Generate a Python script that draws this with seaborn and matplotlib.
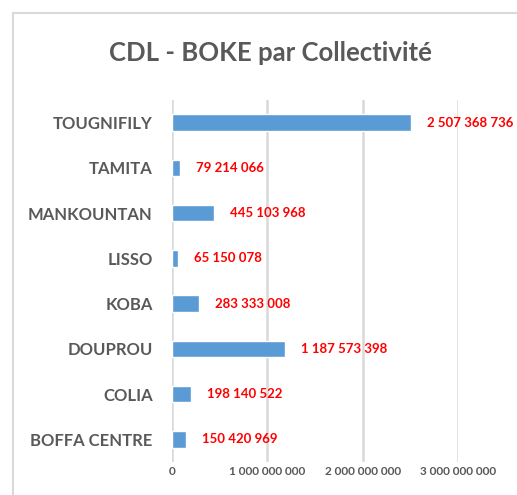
import numpy as np
import pandas as pd
import seaborn as sns
import matplotlib.pyplot as plt
from matplotlib.patches import Rectangle

collectivites = ["TOUGNIFILY", "TAMITA", "MANKOUNTAN", "LISSO", "KOBA",
                 "DOUPROU", "COLIA", "BOFFA CENTRE"]
montants = [2507368736, 79214066, 445103968, 65150078, 283333008,
            1187573398, 198140522, 150420969]
xticks = [0, 1000000000, 2000000000, 3000000000]

def fmt(v):
    return "{:,}".format(int(v)).replace(",", " ")

sns.set_style("white")
plt.rcParams['font.family'] = ['Lato', 'DejaVu Sans']

df = pd.DataFrame({"collectivite": collectivites, "montant": montants})

fig = plt.figure(figsize=(5.17, 4.95), dpi=100)
ax = fig.add_axes([172 / 517, 33 / 495, (458 - 172) / 517, 362 / 495])

sns.barplot(data=df, x="montant", y="collectivite", ax=ax, color="#5b9bd5",
            width=0.36, saturation=1, zorder=3)

ax.set_xlim(0, 3000000000)
ax.set_ylim(7.5, -0.5)
ax.set_xticks(xticks)
ax.set_xticklabels([fmt(t) for t in xticks], fontsize=8.5, fontweight="bold", color="#595959")
ax.tick_params(axis="y", labelsize=12, labelcolor="#595959", pad=14, length=0)
ax.tick_params(axis="x", pad=3, length=0)
for lab in ax.get_yticklabels():
    lab.set_fontweight("bold")
ax.set_xlabel("")
ax.set_ylabel("")
ax.grid(axis="x", color="#d9d9d9", linewidth=1.8, zorder=0)
ax.set_axisbelow(True)
for s in ax.spines.values():
    s.set_visible(False)

span = 3000000000 / (458 - 172)
for i, v in enumerate(montants):
    ax.text(v + 16 * span, i, fmt(v), color="red", fontsize=9.5, fontweight="bold",
            va="center", ha="left", zorder=4)

fig.text(270 / 517, 1 - 53 / 495, "CDL - BOKE par Collectivité", ha="center", va="center",
         fontsize=18.5, fontweight="bold", color="#595959")

fig.patches.append(Rectangle((13 / 517, -0.1), 1.2, 1 - 13 / 495 + 0.1, transform=fig.transFigure,
                             fill=False, edgecolor="#d9d9d9", linewidth=1.5))

fig.savefig("out.png", dpi=100)
